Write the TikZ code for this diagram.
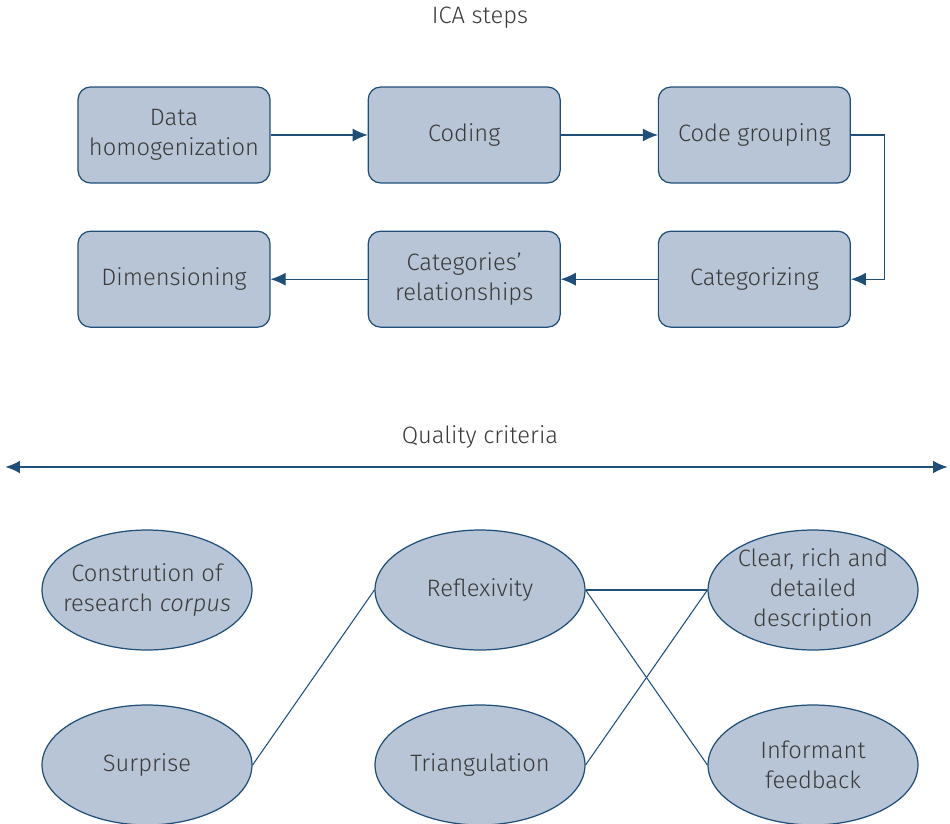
\documentclass[tikz,border=0pt]{standalone}
\usepackage{fontspec}
\setmainfont{Fira Sans}[UprightFont=* Light, ItalicFont=* Light Italic]
\usetikzlibrary{positioning,shapes.geometric,arrows.meta}
\definecolor{boxfill}{HTML}{B8C5D6}
\definecolor{boxline}{HTML}{1F4E79}
\definecolor{txt}{HTML}{3A3A3A}

\begin{document}
\begin{tikzpicture}[x=0.02cm, y=-0.02cm, node distance=0.94cm and 1.94cm, >={Latex[length=3mm,width=2.6mm]}, font=\fontsize{13.5}{17}\selectfont, text=txt]
        \tikzstyle{block} = [rectangle, draw=boxline, fill=boxfill, rounded corners=2.5mm, align=center, minimum width=3.84cm, minimum height=1.92cm, line width=0.7pt]
        \tikzstyle{crit} = [ellipse, draw=boxline, fill=boxfill, align=center, inner xsep=-12pt, inner ysep=-2pt, minimum width=4.2cm, minimum height=2.4cm, line width=0.7pt]
        \tikzstyle{link} = [draw=boxline, line width=0.6pt]
        \useasboundingbox (0,0) rectangle (950,824);
        \node (title) at (480,18) {ICA steps};
        \node[block] (homog) at (174,135) {Data\\homogenization};
        \node[block, right=of homog] (coding) {Coding};
        \node[block, right=of coding] (group) {Code grouping};
        \node[block, below=of group] (categ) {Categorizing};
        \node[block, left=of categ] (relat) {Categories'\\relationships};
        \node[block, left=of relat] (dimen) {Dimensioning};
        \draw[link, ->] (homog) -- (coding);
        \draw[link, ->] (coding) -- (group);
        \draw[link, ->] (group.east) -- ++(34,0) |- (categ.east);
        \draw[link, ->] (categ) -- (relat);
        \draw[link, ->] (relat) -- (dimen);
        \node (quality) at (480,437) {Quality criteria};
        \coordinate (qleft) at (5,467);
        \coordinate (qright) at (948,467);
        \draw[link, line width=1.4pt, <->] (qleft) -- (qright);
        \node[crit] (corpus) at (147,590) {Constrution of\\research \textit{corpus}};
        \node[crit] (surprise) at (147,765) {Surprise};
        \node[crit] (reflex) at (480,590) {Reflexivity};
        \node[crit] (triang) at (480,765) {Triangulation};
        \node[crit] (clear) at (813,590) {Clear, rich and\\detailed\\description};
        \node[crit] (inform) at (813,765) {Informant\\feedback};
        \draw[link] (surprise.east) -- (reflex.west);
        \draw[link] (reflex.east) -- (clear.west);
        \draw[link] (reflex.east) -- (inform.west);
        \draw[link] (triang.east) -- (clear.west);
    \end{tikzpicture}
\end{document}
